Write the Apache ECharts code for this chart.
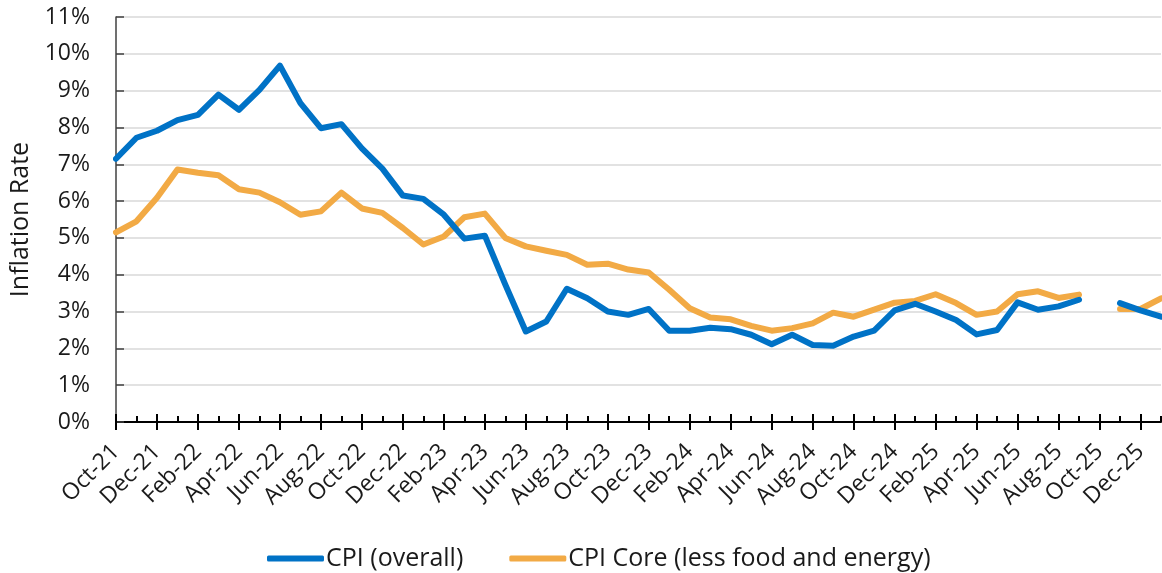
<!DOCTYPE html>
<html>
<head>
<meta charset="utf-8">
<script src="https://cdn.jsdelivr.net/npm/echarts@6/dist/echarts.min.js"></script>
<style>
html,body{margin:0;padding:0;background:#fff;}
#chart{width:1162px;height:573px;}
</style>
</head>
<body>
<div id="chart"></div>
<script>
const months = ["Oct-21","Nov-21","Dec-21","Jan-22","Feb-22","Mar-22","Apr-22","May-22","Jun-22","Jul-22","Aug-22","Sep-22",
"Oct-22","Nov-22","Dec-22","Jan-23","Feb-23","Mar-23","Apr-23","May-23","Jun-23","Jul-23","Aug-23","Sep-23",
"Oct-23","Nov-23","Dec-23","Jan-24","Feb-24","Mar-24","Apr-24","May-24","Jun-24","Jul-24","Aug-24","Sep-24",
"Oct-24","Nov-24","Dec-24","Jan-25","Feb-25","Mar-25","Apr-25","May-25","Jun-25","Jul-25","Aug-25","Sep-25",
"Oct-25","Nov-25","Dec-25","Jan-26"];
const cpiOverall = [7.15,7.72,7.91,8.2,8.34,8.89,8.48,9.02,9.68,8.66,7.98,8.09,7.43,
6.88,6.15,6.06,5.63,4.98,5.06,3.73,2.46,2.73,3.62,3.36,3.0,2.91,
3.07,2.48,2.48,2.56,2.52,2.37,2.11,2.37,2.09,2.07,2.32,2.48,3.03,
3.21,3.0,2.77,2.38,2.5,3.25,3.05,3.14,3.32,null,3.23,3.03,2.86];
const cpiCore = [5.15,5.45,6.09,6.86,6.77,6.70,6.32,6.23,5.97,5.63,5.72,6.23,5.8,
5.68,5.27,4.82,5.04,5.56,5.66,5.0,4.77,4.65,4.54,4.27,4.3,4.14,
4.06,3.59,3.09,2.84,2.79,2.61,2.48,2.55,2.68,2.97,2.86,3.05,3.24,
3.29,3.47,3.23,2.91,3.0,3.47,3.55,3.37,3.46,null,3.07,3.07,3.36];
const seriesNames = ["CPI (overall)", "CPI Core (less food and energy)"];
const yAxisTitle = "Inflation Rate";

const FONT = '"Open Sans"';
const TXT = '#1a1a1a';
const BLUE = '#0072C6';
const ORANGE = '#F2AA45';

const chart = echarts.init(document.getElementById('chart'), null, {renderer: 'canvas'});
const baseX = {
  type: 'category', data: months, boundaryGap: false, gridIndex: 0, position: 'bottom'
};
chart.setOption({
  animation: false,
  backgroundColor: '#fff',
  grid: {left: 116, right: 1, top: 17, bottom: 151, containLabel: false},
  legend: {
    left: 262, top: 541,
    icon: 'roundRect', itemWidth: 57, itemHeight: 6, itemGap: 46,
    textStyle: {fontFamily: FONT, fontSize: 25, color: TXT, padding: [0,0,0,-3]},
    data: seriesNames
  },
  xAxis: [
    Object.assign({}, baseX, {
      axisLine: {show: true, lineStyle: {color: '#000', width: 2}},
      axisTick: {show: true, interval: 1, length: 8, inside: false, lineStyle: {color: '#000', width: 2}},
      axisLabel: {interval: 1, rotate: 45, margin: 26, fontFamily: FONT, fontSize: 23, color: TXT},
      splitLine: {show: false}
    }),
    Object.assign({}, baseX, {
      axisLine: {show: false},
      axisTick: {show: true, interval: 0, length: 6, inside: true, lineStyle: {color: '#000', width: 2}},
      axisLabel: {show: false}, splitLine: {show: false}
    }),
    Object.assign({}, baseX, {
      axisLine: {show: false},
      axisTick: {show: true, interval: 1, length: 8, inside: true, lineStyle: {color: '#000', width: 2}},
      axisLabel: {show: false}, splitLine: {show: false}
    })
  ],
  yAxis: {
    type: 'value', min: 0, max: 11, interval: 1,
    name: yAxisTitle, nameLocation: 'middle', nameGap: 82, nameRotate: 90,
    nameTextStyle: {fontFamily: FONT, fontSize: 25, color: TXT},
    axisLine: {show: true, lineStyle: {color: '#404040', width: 1.5}},
    axisTick: {show: true, inside: true, length: 8, lineStyle: {color: '#404040', width: 1.5}},
    axisLabel: {formatter: '{value}%', margin: 26, fontFamily: FONT, fontSize: 23, color: TXT},
    splitLine: {show: true, lineStyle: {color: '#D9D9D9', width: 1.5}}
  },
  series: [
    {name: seriesNames[0], type: 'line', xAxisIndex: 0, data: cpiOverall, showSymbol: false, symbol: 'none',
     connectNulls: false, color: BLUE, lineStyle: {color: BLUE, width: 6, cap: 'round', join: 'round'}, z: 3},
    {name: seriesNames[1], type: 'line', xAxisIndex: 0, data: cpiCore, showSymbol: false, symbol: 'none',
     connectNulls: false, color: ORANGE, lineStyle: {color: ORANGE, width: 6, cap: 'round', join: 'round'}, z: 2}
  ]
});
</script>
</body>
</html>
